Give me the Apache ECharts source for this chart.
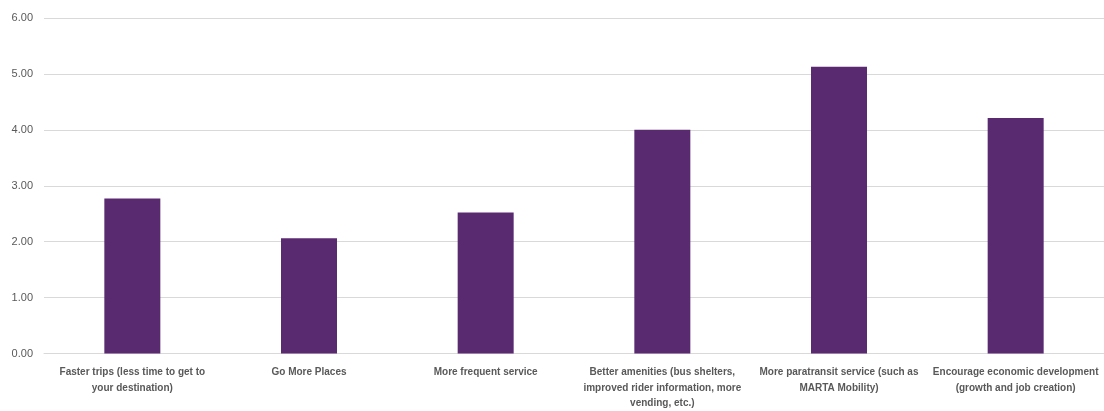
<!DOCTYPE html>
<html>
<head>
<meta charset="utf-8">
<script src="https://cdn.jsdelivr.net/npm/echarts@6/dist/echarts.min.js"></script>
<style>html,body{margin:0;padding:0;background:#fff}#c{width:1104px;height:411px}</style>
</head>
<body>
<div id="c"></div>
<script>
const categories = [
  "Faster trips (less time to get to\nyour destination)",
  "Go More Places",
  "More frequent service",
  "Better amenities (bus shelters,\nimproved rider information, more\nvending, etc.)",
  "More paratransit service (such as\nMARTA Mobility)",
  "Encourage economic development\n(growth and job creation)"
];
const values = [2.77, 2.06, 2.52, 4.00, 5.13, 4.21];
const yTicks = { min: 0, max: 6, interval: 1 };

const chart = echarts.init(document.getElementById('c'), null, { renderer: 'canvas' });
chart.setOption({
  animation: false,
  grid: { left: 44, right: 0, top: 18, bottom: 53, containLabel: false },
  xAxis: {
    type: 'category',
    data: categories,
    axisLine: { show: true, lineStyle: { color: '#d9d9d9', width: 1 } },
    axisTick: { show: false },
    axisLabel: {
      interval: 0,
      color: '#595959',
      fontFamily: 'Liberation Sans, Arial, sans-serif',
      fontWeight: 'bold',
      fontSize: 10,
      lineHeight: 15.5,
      margin: 11
    }
  },
  yAxis: {
    type: 'value',
    min: yTicks.min, max: yTicks.max, interval: yTicks.interval,
    axisLine: { show: false },
    axisTick: { show: false },
    splitLine: { lineStyle: { color: '#d9d9d9', width: 1 } },
    axisLabel: {
      color: '#595959',
      fontFamily: 'Liberation Sans, Arial, sans-serif',
      fontSize: 11,
      margin: 11,
      formatter: v => v.toFixed(2)
    }
  },
  series: [{
    type: 'bar',
    data: values,
    barWidth: 56,
    itemStyle: { color: '#5a2a71' }
  }]
});
</script>
</body>
</html>
